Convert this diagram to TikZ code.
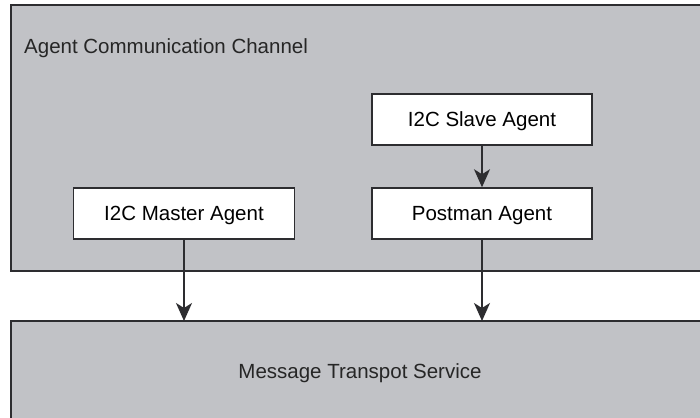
\documentclass[tikz,border=0pt]{standalone}
\usepackage{fontspec}
\setmainfont{Liberation Sans}
\usetikzlibrary{arrows.meta}
\definecolor{panel}{RGB}{193,194,198}
\definecolor{edge}{RGB}{45,45,48}
\tikzset{
  panelbox/.style={draw=edge, fill=panel, line width=1.6pt},
  agentbox/.style={draw=edge, fill=white, line width=1.5pt, minimum width=220pt, minimum height=51pt, inner sep=0pt, text height=14.8pt, text depth=0pt, font=\fontsize{20.5}{24}\selectfont},
  flow/.style={draw=edge, line width=1.6pt, -{Stealth[length=18pt, width=16pt, inset=5pt]}},
  lbl/.style={font=\fontsize{20.5}{24}\selectfont, text=black!85, inner sep=0pt, text height=14.8pt, text depth=0pt}
}
\begin{document}
\begin{tikzpicture}[x=1pt,y=-1pt]
\useasboundingbox (0,0) rectangle (700,417);
\fill[white] (0,0) rectangle (700,417);
\draw[panelbox] (11,5) rectangle (712,271);
\draw[panelbox] (11,321) rectangle (712,425);
\node[lbl, anchor=west] (acc) at (24,46) {Agent Communication Channel};
\node[lbl] (mts) at (360,371) {Message Transpot Service};
\node[agentbox] (slave) at (482,119.5) {I2C Slave Agent};
\node[agentbox] (postman) at (482,213.5) {Postman Agent};
\node[agentbox, minimum width=221pt] (master) at (184,213.5) {I2C Master Agent};
\coordinate (mastin) at (184,321);
\coordinate (postin) at (482,321);
\draw[flow] (slave) -- (postman);
\draw[flow] (master) -- (mastin);
\draw[flow] (postman) -- (postin);
\end{tikzpicture}
\end{document}
